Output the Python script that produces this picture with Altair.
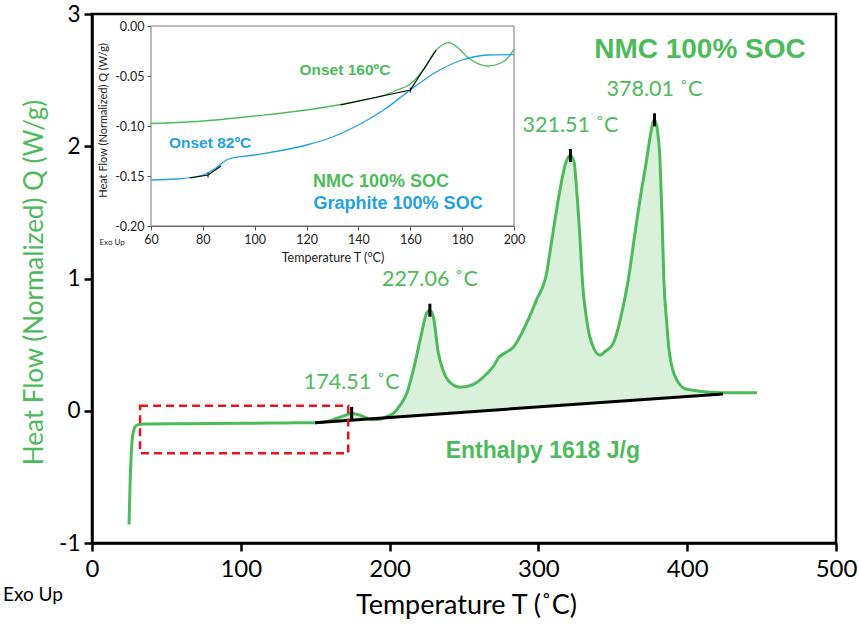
import altair as alt
import pandas as pd
import numpy as np

GREEN = "#4DBB5B"
BLUE = "#1FA2E1"
FILL = "#D9F0DB"
FONT = "Lato"
BOLD = "Liberation Sans"

# ---------------- main DSC curve ----------------
main_T = [24.9, 25.6, 26.3, 27, 28, 29, 31, 35, 40, 60, 100, 130, 150, 160, 165, 170,
          174.5, 179, 184.6, 189, 193.5, 198, 202.5, 207, 211.5, 216, 220.6, 225, 227,
          229.4, 232.7, 236.1, 242.8, 247.3, 256.3, 265.3, 270, 273.1, 278, 283.2, 292,
          298.8, 305.5, 309, 314.5, 318, 321.5, 324, 325.7, 328, 329.5, 332.4, 336.9,
          341.4, 345, 350.3, 357, 360.4, 365, 369, 372.8, 375.5, 378, 380, 381.7, 383,
          384.3, 386, 387.6, 390, 393.2, 398, 404, 415, 424, 447]
main_Q = [-0.86, -0.55, -0.35, -0.22, -0.15, -0.12, -0.105, -0.1, -0.1, -0.098, -0.095,
          -0.092, -0.09, -0.075, -0.055, -0.035, -0.02, -0.03, -0.055, -0.068, -0.065,
          -0.045, -0.02, 0.04, 0.13, 0.31, 0.54, 0.74, 0.76, 0.71, 0.44, 0.30, 0.195,
          0.177, 0.20, 0.28, 0.34, 0.40, 0.44, 0.48, 0.66, 0.84, 1.04, 1.29, 1.67, 1.86,
          1.93, 1.88, 1.67, 1.29, 0.99, 0.69, 0.48, 0.42, 0.45, 0.51, 0.79, 0.99, 1.35,
          1.65, 1.9, 2.1, 2.2, 2.12, 1.9, 1.5, 0.99, 0.7, 0.48, 0.32, 0.23, 0.17, 0.155,
          0.14, 0.137, 0.137]

base_T = [150, 424]
base_Q = [-0.09, 0.127]

peak_T = [174.51, 227.06, 321.51, 378.01]
peak_Q = [-0.02, 0.76, 1.93, 2.20]
peak_text = ["174.51 \u02daC", "227.06 \u02daC", "321.51 \u02daC", "378.01 \u02daC"]

box_T = [32.3, 172.2]
box_Q = [0.038, -0.322]

main_notes_text = ["NMC 100% SOC", "Enthalpy 1618 J/g"]
main_notes_T = [408.6, 303]
main_notes_Q = [2.728, -0.305]
main_notes_size = [28, 23]

exo_T = [-39.7]
exo_Q = [-1.39]

# ---------------- inset ----------------
ins_nmc_T = [60, 70, 80, 100, 120, 140, 150, 155, 160, 165, 170, 175, 178, 182, 187, 190, 195, 198, 200]
ins_nmc_Q = [-0.0975, -0.0965, -0.095, -0.090, -0.084, -0.075, -0.069, -0.064, -0.058, -0.044,
             -0.024, -0.0166, -0.021, -0.031, -0.0386, -0.040, -0.037, -0.031, -0.023]
ins_gr_T = [60, 70, 80, 85, 88, 90, 100, 120, 130, 140, 150, 160, 170, 180, 190, 200]
ins_gr_Q = [-0.154, -0.153, -0.149, -0.142, -0.136, -0.133, -0.129, -0.119, -0.111, -0.099,
            -0.0835, -0.064, -0.046, -0.034, -0.029, -0.0286]

tan_nmc_T = [133, 160, 170]
tan_nmc_Q = [-0.079, -0.064, -0.024]
tan_gr_T = [75, 82, 87]
tan_gr_Q = [-0.152, -0.149, -0.140]

ins_text = ["Onset 160\u00baC", "Onset 82\u00baC", "NMC 100% SOC", "Graphite 100% SOC"]
ins_text_T = [134.8, 82.8, 148.7, 155.3]
ins_text_Q = [-0.044, -0.117, -0.156, -0.178]
ins_text_color = [GREEN, BLUE, GREEN, BLUE]
ins_text_size = [15.5, 15.5, 18, 18]

ins_exo_T = [45]
ins_exo_Q = [-0.217]

# ---------------- data frames ----------------
main_df = pd.DataFrame({"T": main_T, "Q": main_Q})
area_df = main_df[(main_df["T"] >= base_T[0]) & (main_df["T"] <= base_T[1])].copy()
area_df["B"] = np.interp(area_df["T"], base_T, base_Q)
base_df = pd.DataFrame({"T": base_T, "Q": base_Q})
peak_df = pd.DataFrame({"T": peak_T, "Q": peak_Q, "label": peak_text})
box_df = pd.DataFrame({"T": [box_T[0]], "T2": [box_T[1]], "Q": [box_Q[0]], "Q2": [box_Q[1]]})
notes_df = pd.DataFrame({"T": main_notes_T, "Q": main_notes_Q, "label": main_notes_text, "s": main_notes_size})
exo_df = pd.DataFrame({"T": exo_T, "Q": exo_Q, "label": ["Exo Up"]})

ins_df = pd.concat([
    pd.DataFrame({"T": ins_nmc_T, "Q": ins_nmc_Q, "s": "NMC"}),
    pd.DataFrame({"T": ins_gr_T, "Q": ins_gr_Q, "s": "Graphite"}),
])
tan_df = pd.concat([
    pd.DataFrame({"T": tan_nmc_T, "Q": tan_nmc_Q, "g": "a"}),
    pd.DataFrame({"T": tan_gr_T, "Q": tan_gr_Q, "g": "b"}),
])
onset_df = pd.DataFrame({"T": [tan_nmc_T[1], tan_gr_T[1]], "Q": [tan_nmc_Q[1], tan_gr_Q[1]]})
ins_text_df = pd.DataFrame({"T": ins_text_T, "Q": ins_text_Q, "label": ins_text,
                            "c": ins_text_color, "s": ins_text_size})
ins_frame_df = pd.DataFrame({"T": [60], "T2": [200], "Q": [-0.2], "Q2": [0.0]})
ins_exo_df = pd.DataFrame({"T": ins_exo_T, "Q": ins_exo_Q, "label": ["Exo Up"]})

# ---------------- main scales / axes ----------------
mxs = alt.Scale(domain=[0, 500], nice=False, zero=False)
mys = alt.Scale(domain=[-1, 3], nice=False, zero=False)
mx_axis = alt.Axis(orient="bottom", values=[0, 100, 200, 300, 400, 500], grid=False,
                   labelFont=FONT, labelFontSize=24, labelColor="black", labelPadding=6,
                   domainColor="black", domainWidth=2.5, tickColor="black", tickWidth=2.5,
                   tickSize=8, labelFlush=False,
                   title="Temperature T (\u02daC)", titleFont=FONT, titleFontSize=27,
                   titleFontWeight="normal", titleColor="black", titleX=374, titleY=62,
                   titleAlign="center", titleBaseline="middle")
my_axis = alt.Axis(orient="left", values=[-1, 0, 1, 2, 3], grid=False,
                   labelExpr="replace(format(datum.value, 'd'), '\u2212', '-')",
                   labelFont=FONT, labelFontSize=22.5, labelColor="black", labelPadding=4,
                   domainColor="black", domainWidth=2.5, tickColor="black", tickWidth=2.5,
                   tickSize=8, labelFlush=False,
                   title="Heat Flow (Normalized) Q  (W/g)", titleFont=FONT, titleFontSize=26,
                   titleFontWeight="normal", titleColor=GREEN, titleX=-58, titleY=268,
                   titleAngle=270, titleAlign="center", titleBaseline="middle")

MX = alt.X("T:Q", scale=mxs, axis=mx_axis)
MY = alt.Y("Q:Q", scale=mys, axis=my_axis)

area = alt.Chart(area_df).mark_area(color=FILL, interpolate="monotone").encode(
    x=MX, y=MY, y2=alt.Y2("B:Q"))
curve = alt.Chart(main_df).mark_line(color=GREEN, strokeWidth=3, interpolate="monotone").encode(x=MX, y=MY)
base = alt.Chart(base_df).mark_line(color="black", strokeWidth=3).encode(x=MX, y=MY)
ticks = alt.Chart(peak_df).mark_tick(orient="vertical", color="black", opacity=1, size=13,
                                     thickness=3).encode(x=MX, y=MY)
plabels = alt.Chart(peak_df).mark_text(color=GREEN, font=FONT, fontSize=21.5, dy=-30,
                                       align="center", baseline="middle").encode(x=MX, y=MY, text="label:N")
box = alt.Chart(box_df).mark_rect(fillOpacity=0, stroke="#E8141B", strokeWidth=2.5,
                                  strokeDash=[8, 5]).encode(
    x=MX, x2=alt.X2("T2:Q"), y=MY, y2=alt.Y2("Q2:Q"))
notes = alt.Chart(notes_df).mark_text(color=GREEN, font=BOLD, fontWeight="bold",
                                      align="center", baseline="middle").encode(
    x=MX, y=MY, text="label:N", size=alt.Size("s:Q", scale=None, legend=None))
exo = alt.Chart(exo_df).mark_text(color="black", font=FONT, fontSize=19,
                                  align="center", baseline="middle").encode(x=MX, y=MY, text="label:N")

main_layer = alt.layer(area, curve, base, ticks, plabels, box, notes, exo)

# ---------------- inset scales / axes ----------------
ixs = alt.Scale(domain=[60, 200], range=[59, 422], nice=False, zero=False)
iys = alt.Scale(domain=[-0.2, 0.0], range=[212, 12], nice=False, zero=False)
ix_axis = alt.Axis(orient="bottom", offset=-317, values=[60, 80, 100, 120, 140, 160, 180, 200],
                   grid=False, labelFont=FONT, labelFontSize=12.5, labelColor="#222",
                   labelPadding=3, domainColor="#555", domainWidth=1, tickColor="#555",
                   tickSize=4, labelFlush=False,
                   title="Temperature T (\u00b0C)", titleFont=FONT, titleFontSize=12.5,
                   titleFontWeight="normal", titleColor="#222", titleY=31, titleBaseline="middle")
iy_axis = alt.Axis(orient="left", offset=-59, values=[-0.2, -0.15, -0.1, -0.05, 0.0],
                   grid=False, labelExpr="replace(format(datum.value, '.2f'), '\u2212', '-')",
                   labelFont=FONT, labelFontSize=12.5, labelColor="#222", labelPadding=3,
                   domainColor="#555", domainWidth=1, tickColor="#555", tickSize=4,
                   labelFlush=False,
                   title="Heat Flow (Normalized) Q (W/g)", titleFont=FONT, titleFontSize=11,
                   titleFontWeight="normal", titleColor="#222", titleX=-48, titleY=106,
                   titleAngle=270, titleAlign="center", titleBaseline="middle")

IX = alt.X("T:Q", scale=ixs, axis=ix_axis)
IY = alt.Y("Q:Q", scale=iys, axis=iy_axis)

iframe = alt.Chart(ins_frame_df).mark_rect(fill="white", stroke="#777", strokeWidth=1).encode(
    x=IX, x2=alt.X2("T2:Q"), y=IY, y2=alt.Y2("Q2:Q"))
ilines = alt.Chart(ins_df).mark_line(strokeWidth=1.3, interpolate="monotone").encode(
    x=IX, y=IY,
    color=alt.Color("s:N", scale=alt.Scale(domain=["NMC", "Graphite"], range=[GREEN, BLUE]), legend=None))
itan = alt.Chart(tan_df).mark_line(color="black", strokeWidth=1.2).encode(x=IX, y=IY, detail="g:N")
ionset = alt.Chart(onset_df).mark_tick(orient="vertical", color="black", opacity=1, size=5,
                                       thickness=1).encode(x=IX, y=IY)
itext = alt.Chart(ins_text_df).mark_text(font=BOLD, fontWeight="bold", align="center",
                                         baseline="middle").encode(
    x=IX, y=IY, text="label:N", color=alt.Color("c:N", scale=None),
    size=alt.Size("s:Q", scale=None, legend=None))
iexo = alt.Chart(ins_exo_df).mark_text(color="#222", font=FONT, fontSize=8,
                                       align="center", baseline="middle").encode(x=IX, y=IY, text="label:N")

inset_layer = alt.layer(iframe, ilines, itan, ionset, itext, iexo)

chart = alt.layer(main_layer, inset_layer).resolve_scale(
    x="independent", y="independent", color="independent", size="independent"
).properties(
    width=744, height=529,
    autosize=alt.AutoSizeParams(type="none"),
    padding={"left": 92, "top": 14, "right": 23, "bottom": 84},
    background="white",
).configure_view(stroke="black", strokeWidth=2.5)

chart.save("out.html", embed_options={"renderer": "svg", "actions": False})
